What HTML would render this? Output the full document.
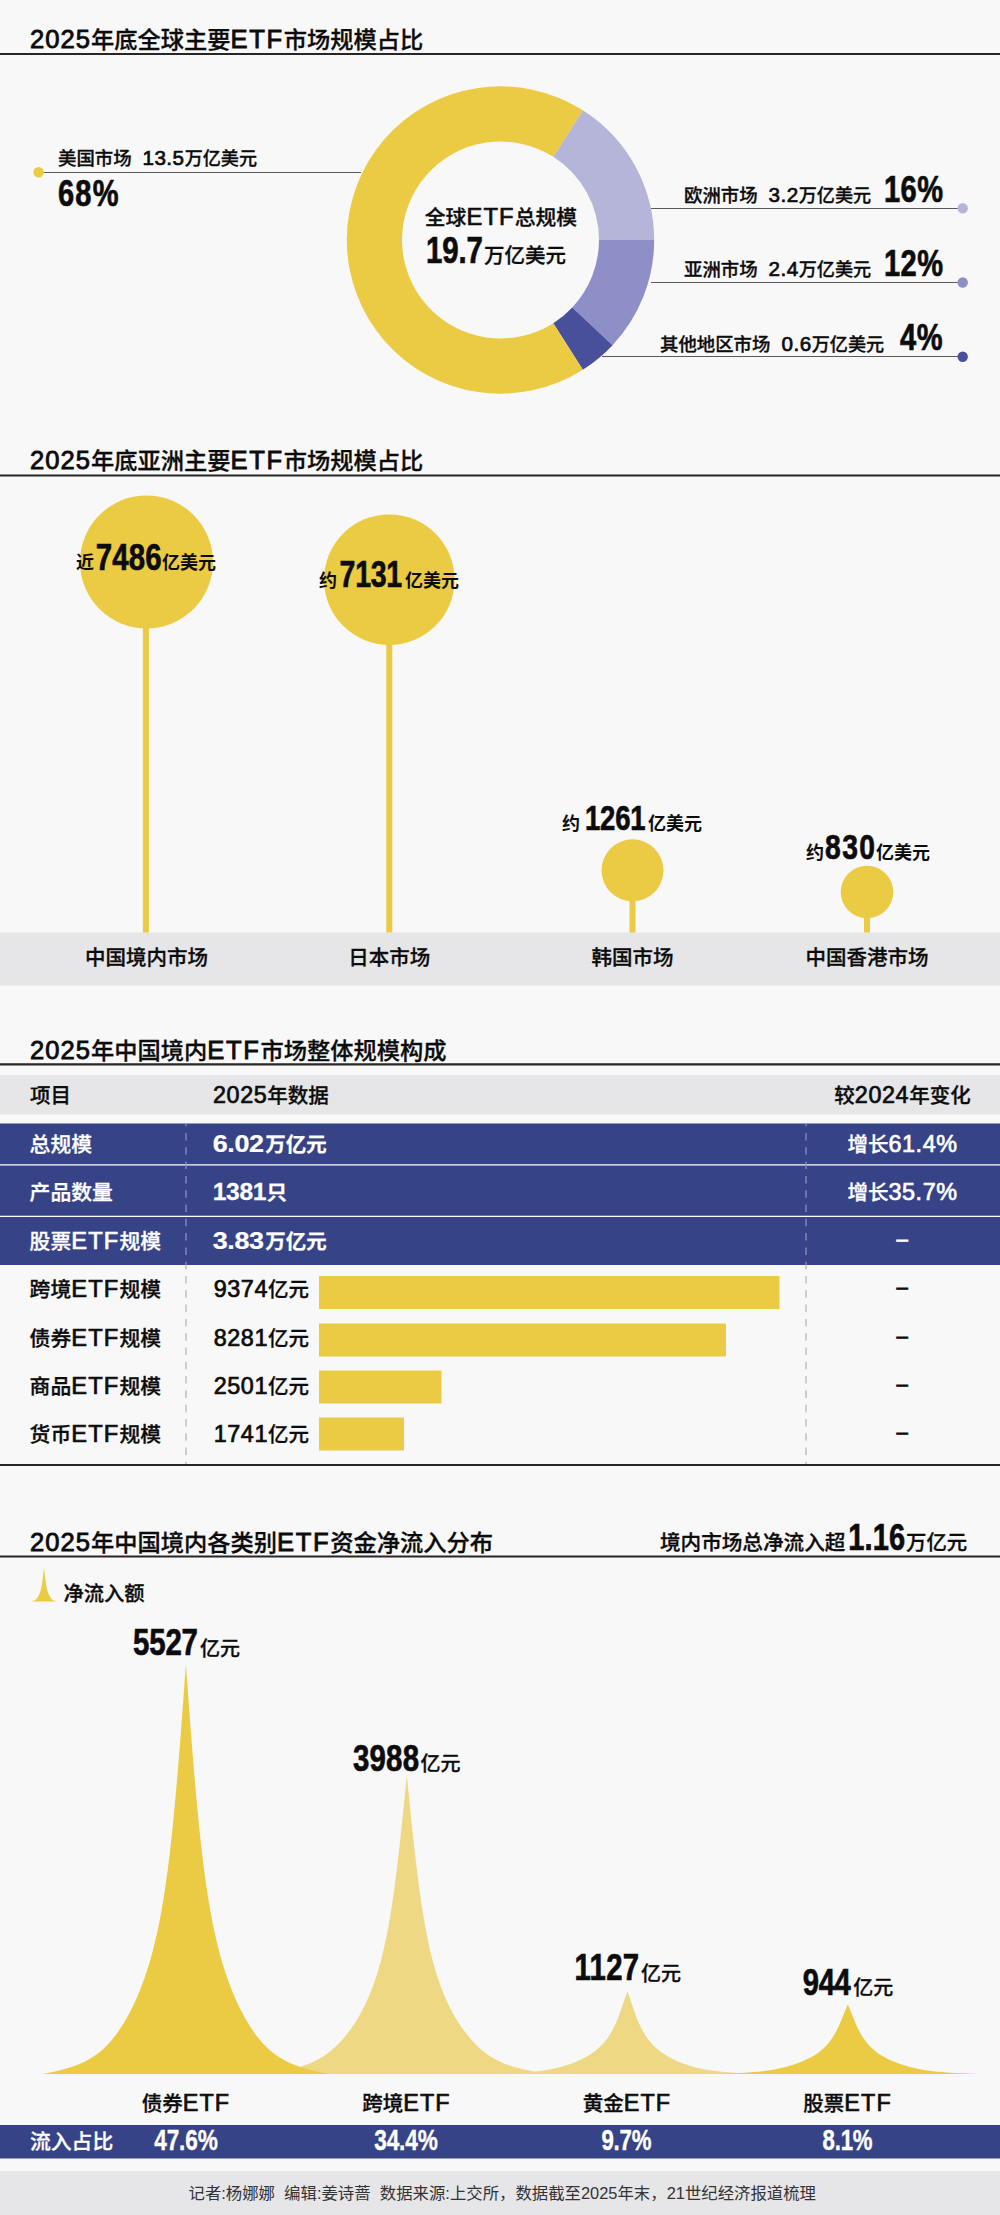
<!DOCTYPE html>
<html lang="zh-CN"><head><meta charset="utf-8"><title>ETF</title>
<style>html,body{margin:0;padding:0;background:#f8f8f9}svg{display:block}text{font-family:"Liberation Sans","Noto Sans CJK SC",sans-serif;white-space:pre}</style>
</head><body>
<svg width="1000" height="2215" viewBox="0 0 1000 2215">
<rect width="1000" height="2215" fill="#f8f8f9"/>
<text x="30.0" y="47.5" font-size="23.25" fill="#0c0c0c" font-weight="500" text-anchor="start" stroke="#0c0c0c" stroke-width="0.30" ><tspan font-size="25.58" letter-spacing="1.02" stroke="#0c0c0c" stroke-width="0.85">2025</tspan>年底全球主要<tspan font-size="25.58" letter-spacing="1.66" stroke="#0c0c0c" stroke-width="0.85">ETF</tspan>市场规模占比</text>
<line x1="0.0" y1="54.0" x2="1000.0" y2="54.0" stroke="#262626" stroke-width="1.90" />
<path d="M582.86 110.23A153.7 153.7 0 0 1 654.20 240.00L599.00 240.00A98.5 98.5 0 0 0 553.28 156.83Z" fill="#b5b5da"/>
<path d="M654.20 240.00A153.7 153.7 0 0 1 612.54 345.21L572.30 307.43A98.5 98.5 0 0 0 599.00 240.00Z" fill="#8d8fc6"/>
<path d="M612.54 345.21A153.7 153.7 0 0 1 582.86 369.77L553.28 323.17A98.5 98.5 0 0 0 572.30 307.43Z" fill="#48509b"/>
<path d="M582.86 369.77A153.7 153.7 0 1 1 582.86 110.23L553.28 156.83A98.5 98.5 0 1 0 553.28 323.17Z" fill="#eacb43"/>
<text x="501.0" y="225.0" font-size="20.80" fill="#0c0c0c" font-weight="500" text-anchor="middle" stroke="#0c0c0c" stroke-width="0.30" >全球<tspan font-size="23.71" letter-spacing="1.19" stroke="#0c0c0c" stroke-width="0.70">ETF</tspan>总规模</text>
<text transform="translate(426.00 263.00) scale(0.785 1)" font-size="37.50" fill="#0c0c0c" font-weight="700" stroke="#0c0c0c" stroke-width="0.70" textLength="72.6" lengthAdjust="spacing">19.7</text>
<text x="484.0" y="263.0" font-size="20.50" fill="#0c0c0c" font-weight="500" text-anchor="start" stroke="#0c0c0c" stroke-width="0.30" >万亿美元</text>
<line x1="39.0" y1="172.5" x2="361.0" y2="172.5" stroke="#5a5a5a" stroke-width="1.00" />
<circle cx="38.6" cy="172.2" r="5.2" fill="#eacb43"/>
<text x="58.0" y="165.0" font-size="18.40" fill="#0c0c0c" font-weight="500" text-anchor="start" stroke="#0c0c0c" stroke-width="0.30" >美国市场</text>
<text x="142.4" y="165.0" font-size="18.10" fill="#0c0c0c" font-weight="500" text-anchor="start" stroke="#0c0c0c" stroke-width="0.30" ><tspan font-size="20.63" letter-spacing="0.52" stroke="#0c0c0c" stroke-width="0.70">13.5</tspan>万亿美元</text>
<text transform="translate(58.00 206.40) scale(0.785 1)" font-size="37.00" fill="#0c0c0c" font-weight="700" stroke="#0c0c0c" stroke-width="0.70" textLength="77.1" lengthAdjust="spacing">68%</text>
<line x1="651.0" y1="208.5" x2="962.0" y2="208.5" stroke="#5a5a5a" stroke-width="1.00" />
<circle cx="962.7" cy="208.3" r="5.2" fill="#b5b5da"/>
<text x="684.0" y="202.2" font-size="18.40" fill="#0c0c0c" font-weight="500" text-anchor="start" stroke="#0c0c0c" stroke-width="0.30" >欧洲市场</text>
<text x="768.5" y="202.2" font-size="18.10" fill="#0c0c0c" font-weight="500" text-anchor="start" stroke="#0c0c0c" stroke-width="0.30" ><tspan font-size="20.63" letter-spacing="0.52" stroke="#0c0c0c" stroke-width="0.70">3.2</tspan>万亿美元</text>
<text transform="translate(884.00 201.70) scale(0.785 1)" font-size="37.00" fill="#0c0c0c" font-weight="700" stroke="#0c0c0c" stroke-width="0.70" textLength="75.2" lengthAdjust="spacing">16%</text>
<line x1="651.0" y1="282.5" x2="962.0" y2="282.5" stroke="#5a5a5a" stroke-width="1.00" />
<circle cx="962.7" cy="282.5" r="5.2" fill="#8d8fc6"/>
<text x="684.0" y="276.4" font-size="18.40" fill="#0c0c0c" font-weight="500" text-anchor="start" stroke="#0c0c0c" stroke-width="0.30" >亚洲市场</text>
<text x="768.5" y="276.4" font-size="18.10" fill="#0c0c0c" font-weight="500" text-anchor="start" stroke="#0c0c0c" stroke-width="0.30" ><tspan font-size="20.63" letter-spacing="0.52" stroke="#0c0c0c" stroke-width="0.70">2.4</tspan>万亿美元</text>
<text transform="translate(884.00 275.90) scale(0.785 1)" font-size="37.00" fill="#0c0c0c" font-weight="700" stroke="#0c0c0c" stroke-width="0.70" textLength="75.2" lengthAdjust="spacing">12%</text>
<line x1="602.0" y1="356.5" x2="962.0" y2="356.5" stroke="#5a5a5a" stroke-width="1.00" />
<circle cx="962.7" cy="356.7" r="5.2" fill="#48509b"/>
<text x="660.0" y="350.6" font-size="18.40" fill="#0c0c0c" font-weight="500" text-anchor="start" stroke="#0c0c0c" stroke-width="0.30" >其他地区市场</text>
<text x="781.5" y="350.6" font-size="18.10" fill="#0c0c0c" font-weight="500" text-anchor="start" stroke="#0c0c0c" stroke-width="0.30" ><tspan font-size="20.63" letter-spacing="0.52" stroke="#0c0c0c" stroke-width="0.70">0.6</tspan>万亿美元</text>
<text transform="translate(900.00 350.10) scale(0.785 1)" font-size="37.00" fill="#0c0c0c" font-weight="700" stroke="#0c0c0c" stroke-width="0.70" textLength="54.1" lengthAdjust="spacing">4%</text>
<text x="30.0" y="469.0" font-size="23.25" fill="#0c0c0c" font-weight="500" text-anchor="start" stroke="#0c0c0c" stroke-width="0.30" ><tspan font-size="25.58" letter-spacing="1.02" stroke="#0c0c0c" stroke-width="0.85">2025</tspan>年底亚洲主要<tspan font-size="25.58" letter-spacing="1.66" stroke="#0c0c0c" stroke-width="0.85">ETF</tspan>市场规模占比</text>
<line x1="0.0" y1="475.4" x2="1000.0" y2="475.4" stroke="#262626" stroke-width="2.00" />
<rect x="0.0" y="932.5" width="1000.0" height="53.0" fill="#e6e6e8"/>
<rect x="142.9" y="562.0" width="6.0" height="370.5" fill="#eacb43"/>
<circle cx="146.5" cy="562.0" r="66.5" fill="#eacb43"/>
<rect x="386.3" y="579.7" width="6.0" height="352.8" fill="#eacb43"/>
<circle cx="389.3" cy="579.7" r="65.3" fill="#eacb43"/>
<rect x="629.5" y="870.3" width="6.0" height="62.2" fill="#eacb43"/>
<circle cx="632.5" cy="870.3" r="31.0" fill="#eacb43"/>
<rect x="864.0" y="892.0" width="6.0" height="40.5" fill="#eacb43"/>
<circle cx="867.0" cy="892.0" r="26.3" fill="#eacb43"/>
<text x="146.5" y="965.0" font-size="20.50" fill="#0c0c0c" font-weight="500" text-anchor="middle" stroke="#0c0c0c" stroke-width="0.30" >中国境内市场</text>
<text x="389.3" y="965.0" font-size="20.50" fill="#0c0c0c" font-weight="500" text-anchor="middle" stroke="#0c0c0c" stroke-width="0.30" >日本市场</text>
<text x="632.5" y="965.0" font-size="20.50" fill="#0c0c0c" font-weight="500" text-anchor="middle" stroke="#0c0c0c" stroke-width="0.30" >韩国市场</text>
<text x="867.0" y="965.0" font-size="20.50" fill="#0c0c0c" font-weight="500" text-anchor="middle" stroke="#0c0c0c" stroke-width="0.30" >中国香港市场</text>
<text x="76.0" y="569.0" font-size="18.00" fill="#0c0c0c" font-weight="700" text-anchor="start" stroke="#0c0c0c" stroke-width="0.00" >近</text>
<text transform="translate(95.70 569.50) scale(0.785 1)" font-size="37.50" fill="#0c0c0c" font-weight="700" stroke="#0c0c0c" stroke-width="0.70" textLength="84.1" lengthAdjust="spacing">7486</text>
<text x="162.0" y="569.0" font-size="18.00" fill="#0c0c0c" font-weight="700" text-anchor="start" stroke="#0c0c0c" stroke-width="0.00" >亿美元</text>
<text x="319.0" y="586.5" font-size="18.00" fill="#0c0c0c" font-weight="700" text-anchor="start" stroke="#0c0c0c" stroke-width="0.00" >约</text>
<text transform="translate(339.60 587.00) scale(0.769 1)" font-size="37.00" fill="#0c0c0c" font-weight="700" stroke="#0c0c0c" stroke-width="0.70" textLength="81.3" lengthAdjust="spacing">7131</text>
<text x="405.0" y="586.5" font-size="18.00" fill="#0c0c0c" font-weight="700" text-anchor="start" stroke="#0c0c0c" stroke-width="0.00" >亿美元</text>
<text x="562.0" y="829.5" font-size="18.00" fill="#0c0c0c" font-weight="700" text-anchor="start" stroke="#0c0c0c" stroke-width="0.00" >约</text>
<text transform="translate(585.00 829.50) scale(0.785 1)" font-size="35.00" fill="#0c0c0c" font-weight="700" stroke="#0c0c0c" stroke-width="0.70" textLength="77.1" lengthAdjust="spacing">1261</text>
<text x="648.0" y="829.5" font-size="18.00" fill="#0c0c0c" font-weight="700" text-anchor="start" stroke="#0c0c0c" stroke-width="0.00" >亿美元</text>
<text x="806.0" y="858.5" font-size="18.00" fill="#0c0c0c" font-weight="700" text-anchor="start" stroke="#0c0c0c" stroke-width="0.00" >约</text>
<text transform="translate(825.00 859.00) scale(0.785 1)" font-size="36.00" fill="#0c0c0c" font-weight="700" stroke="#0c0c0c" stroke-width="0.70" textLength="63.7" lengthAdjust="spacing">830</text>
<text x="876.0" y="858.5" font-size="18.00" fill="#0c0c0c" font-weight="700" text-anchor="start" stroke="#0c0c0c" stroke-width="0.00" >亿美元</text>
<text x="30.0" y="1058.5" font-size="23.25" fill="#0c0c0c" font-weight="500" text-anchor="start" stroke="#0c0c0c" stroke-width="0.30" ><tspan font-size="25.58" letter-spacing="1.02" stroke="#0c0c0c" stroke-width="0.85">2025</tspan>年中国境内<tspan font-size="25.58" letter-spacing="1.66" stroke="#0c0c0c" stroke-width="0.85">ETF</tspan>市场整体规模构成</text>
<line x1="0.0" y1="1064.4" x2="1000.0" y2="1064.4" stroke="#262626" stroke-width="2.20" />
<rect x="0.0" y="1075.0" width="1000.0" height="39.5" fill="#e6e6e8"/>
<text x="30.0" y="1103.0" font-size="20.50" fill="#0c0c0c" font-weight="500" text-anchor="start" stroke="#0c0c0c" stroke-width="0.30" >项目</text>
<text x="213.0" y="1103.0" font-size="20.50" fill="#0c0c0c" font-weight="500" text-anchor="start" stroke="#0c0c0c" stroke-width="0.30" ><tspan font-size="23.37" letter-spacing="0.58" stroke="#0c0c0c" stroke-width="0.70">2025</tspan>年数据</text>
<text x="902.5" y="1103.0" font-size="20.50" fill="#0c0c0c" font-weight="500" text-anchor="middle" stroke="#0c0c0c" stroke-width="0.30" >较<tspan font-size="23.37" letter-spacing="0.58" stroke="#0c0c0c" stroke-width="0.70">2024</tspan>年变化</text>
<rect x="0.0" y="1123.5" width="1000.0" height="141.5" fill="#364386"/>
<line x1="0.0" y1="1164.9" x2="1000.0" y2="1164.9" stroke="#fff" stroke-width="1.10" />
<line x1="0.0" y1="1216.4" x2="1000.0" y2="1216.4" stroke="#fff" stroke-width="1.10" />
<text x="29.6" y="1151.7" font-size="20.80" fill="#fff" font-weight="500" text-anchor="start" stroke="#fff" stroke-width="0.30" >总规模</text>
<text transform="translate(212.80 1151.70) scale(1.161 1)" font-size="23.20" fill="#fff" font-weight="700" stroke="#fff" stroke-width="0.25" textLength="44.1" lengthAdjust="spacing">6.02</text>
<text x="265.2" y="1151.7" font-size="20.50" fill="#fff" font-weight="700" text-anchor="start" stroke="#fff" stroke-width="0.25" >万亿元</text>
<text x="902.5" y="1151.7" font-size="20.50" fill="#fff" font-weight="500" text-anchor="middle" stroke="#fff" stroke-width="0.30" >增长<tspan font-size="23.37" letter-spacing="0.58" stroke="#fff" stroke-width="0.70">61.4%</tspan></text>
<text x="29.6" y="1200.0" font-size="20.80" fill="#fff" font-weight="500" text-anchor="start" stroke="#fff" stroke-width="0.30" >产品数量</text>
<text transform="translate(212.80 1200.00) scale(1.062 1)" font-size="23.20" fill="#fff" font-weight="700" stroke="#fff" stroke-width="0.25" textLength="50.5" lengthAdjust="spacing">1381</text>
<text x="266.6" y="1200.0" font-size="20.50" fill="#fff" font-weight="700" text-anchor="start" stroke="#fff" stroke-width="0.25" >只</text>
<text x="902.5" y="1200.0" font-size="20.50" fill="#fff" font-weight="500" text-anchor="middle" stroke="#fff" stroke-width="0.30" >增长<tspan font-size="23.37" letter-spacing="0.58" stroke="#fff" stroke-width="0.70">35.7%</tspan></text>
<text x="29.6" y="1248.6" font-size="20.80" fill="#fff" font-weight="500" text-anchor="start" stroke="#fff" stroke-width="0.30" >股票<tspan font-size="23.71" letter-spacing="1.19" stroke="#fff" stroke-width="0.70">ETF</tspan>规模</text>
<text transform="translate(212.80 1248.60) scale(1.161 1)" font-size="23.20" fill="#fff" font-weight="700" stroke="#fff" stroke-width="0.25" textLength="44.1" lengthAdjust="spacing">3.83</text>
<text x="265.2" y="1248.6" font-size="20.50" fill="#fff" font-weight="700" text-anchor="start" stroke="#fff" stroke-width="0.25" >万亿元</text>
<text x="902.5" y="1245.6" font-size="20.50" fill="#fff" font-weight="500" text-anchor="middle" stroke="#fff" stroke-width="0.30" ><tspan font-size="20.50" letter-spacing="0.51" stroke="#fff" stroke-width="0.70">–</tspan></text>
<rect x="319.0" y="1276.0" width="460.5" height="33.0" fill="#eacb43"/>
<text x="29.6" y="1297.3" font-size="20.80" fill="#0c0c0c" font-weight="500" text-anchor="start" stroke="#0c0c0c" stroke-width="0.30" >跨境<tspan font-size="23.71" letter-spacing="1.19" stroke="#0c0c0c" stroke-width="0.70">ETF</tspan>规模</text>
<text x="213.7" y="1297.3" font-size="20.50" fill="#0c0c0c" font-weight="500" text-anchor="start" stroke="#0c0c0c" stroke-width="0.30" ><tspan font-size="23.37" letter-spacing="0.58" stroke="#0c0c0c" stroke-width="0.70">9374</tspan>亿元</text>
<text x="902.5" y="1294.3" font-size="20.50" fill="#0c0c0c" font-weight="500" text-anchor="middle" stroke="#0c0c0c" stroke-width="0.30" ><tspan font-size="20.50" letter-spacing="0.51" stroke="#0c0c0c" stroke-width="0.70">–</tspan></text>
<rect x="319.0" y="1323.5" width="407.0" height="33.0" fill="#eacb43"/>
<text x="29.6" y="1345.7" font-size="20.80" fill="#0c0c0c" font-weight="500" text-anchor="start" stroke="#0c0c0c" stroke-width="0.30" >债券<tspan font-size="23.71" letter-spacing="1.19" stroke="#0c0c0c" stroke-width="0.70">ETF</tspan>规模</text>
<text x="213.7" y="1345.7" font-size="20.50" fill="#0c0c0c" font-weight="500" text-anchor="start" stroke="#0c0c0c" stroke-width="0.30" ><tspan font-size="23.37" letter-spacing="0.58" stroke="#0c0c0c" stroke-width="0.70">8281</tspan>亿元</text>
<text x="902.5" y="1342.7" font-size="20.50" fill="#0c0c0c" font-weight="500" text-anchor="middle" stroke="#0c0c0c" stroke-width="0.30" ><tspan font-size="20.50" letter-spacing="0.51" stroke="#0c0c0c" stroke-width="0.70">–</tspan></text>
<rect x="319.0" y="1370.5" width="122.5" height="33.0" fill="#eacb43"/>
<text x="29.6" y="1394.0" font-size="20.80" fill="#0c0c0c" font-weight="500" text-anchor="start" stroke="#0c0c0c" stroke-width="0.30" >商品<tspan font-size="23.71" letter-spacing="1.19" stroke="#0c0c0c" stroke-width="0.70">ETF</tspan>规模</text>
<text x="213.7" y="1394.0" font-size="20.50" fill="#0c0c0c" font-weight="500" text-anchor="start" stroke="#0c0c0c" stroke-width="0.30" ><tspan font-size="23.37" letter-spacing="0.58" stroke="#0c0c0c" stroke-width="0.70">2501</tspan>亿元</text>
<text x="902.5" y="1391.0" font-size="20.50" fill="#0c0c0c" font-weight="500" text-anchor="middle" stroke="#0c0c0c" stroke-width="0.30" ><tspan font-size="20.50" letter-spacing="0.51" stroke="#0c0c0c" stroke-width="0.70">–</tspan></text>
<rect x="319.0" y="1417.5" width="85.0" height="33.0" fill="#eacb43"/>
<text x="29.6" y="1442.4" font-size="20.80" fill="#0c0c0c" font-weight="500" text-anchor="start" stroke="#0c0c0c" stroke-width="0.30" >货币<tspan font-size="23.71" letter-spacing="1.19" stroke="#0c0c0c" stroke-width="0.70">ETF</tspan>规模</text>
<text x="213.7" y="1442.4" font-size="20.50" fill="#0c0c0c" font-weight="500" text-anchor="start" stroke="#0c0c0c" stroke-width="0.30" ><tspan font-size="23.37" letter-spacing="0.58" stroke="#0c0c0c" stroke-width="0.70">1741</tspan>亿元</text>
<text x="902.5" y="1439.4" font-size="20.50" fill="#0c0c0c" font-weight="500" text-anchor="middle" stroke="#0c0c0c" stroke-width="0.30" ><tspan font-size="20.50" letter-spacing="0.51" stroke="#0c0c0c" stroke-width="0.70">–</tspan></text>
<line x1="186.0" y1="1123.5" x2="186.0" y2="1265.0" stroke="#8f97c8" stroke-width="1.20" stroke-dasharray="7.5 6.8" stroke-dashoffset="4.8"/>
<line x1="186.0" y1="1265.0" x2="186.0" y2="1464.0" stroke="#b0b0b6" stroke-width="1.20" stroke-dasharray="7.5 6.8" stroke-dashoffset="3.3"/>
<line x1="806.0" y1="1123.5" x2="806.0" y2="1265.0" stroke="#8f97c8" stroke-width="1.20" stroke-dasharray="7.5 6.8" stroke-dashoffset="4.8"/>
<line x1="806.0" y1="1265.0" x2="806.0" y2="1464.0" stroke="#b0b0b6" stroke-width="1.20" stroke-dasharray="7.5 6.8" stroke-dashoffset="3.3"/>
<line x1="0.0" y1="1464.9" x2="1000.0" y2="1464.9" stroke="#262626" stroke-width="2.00" />
<text x="30.0" y="1551.0" font-size="23.25" fill="#0c0c0c" font-weight="500" text-anchor="start" stroke="#0c0c0c" stroke-width="0.30" ><tspan font-size="25.58" letter-spacing="1.02" stroke="#0c0c0c" stroke-width="0.85">2025</tspan>年中国境内各类别<tspan font-size="25.58" letter-spacing="1.66" stroke="#0c0c0c" stroke-width="0.85">ETF</tspan>资金净流入分布</text>
<line x1="0.0" y1="1556.5" x2="1000.0" y2="1556.5" stroke="#262626" stroke-width="1.90" />
<text x="660.0" y="1550.0" font-size="20.60" fill="#0c0c0c" font-weight="500" text-anchor="start" stroke="#0c0c0c" stroke-width="0.30" >境内市场总净流入超</text>
<text transform="translate(848.20 1550.00) scale(0.785 1)" font-size="37.00" fill="#0c0c0c" font-weight="700" stroke="#0c0c0c" stroke-width="0.70" textLength="72.6" lengthAdjust="spacing">1.16</text>
<text x="906.0" y="1550.0" font-size="20.40" fill="#0c0c0c" font-weight="500" text-anchor="start" stroke="#0c0c0c" stroke-width="0.30" >万亿元</text>
<path d="M406.80 1775.20L407.78 1785.16L408.76 1795.12L409.77 1805.08L410.78 1815.04L411.82 1825.00L412.89 1834.96L413.98 1844.92L415.11 1854.88L416.28 1864.84L417.50 1874.80L418.79 1884.76L420.15 1894.72L421.61 1904.68L423.17 1914.64L424.87 1924.60L426.74 1934.56L428.80 1944.52L431.09 1954.48L433.67 1964.44L436.60 1974.40L439.94 1984.36L443.78 1994.32L448.24 2004.28L453.43 2014.24L455.27 2017.43L457.21 2020.61L459.26 2023.80L461.41 2026.99L463.69 2030.18L466.10 2033.36L468.65 2036.55L471.38 2039.74L474.30 2042.92L477.46 2046.11L480.92 2049.30L484.77 2052.49L489.18 2055.67L494.38 2058.86L500.74 2062.05L502.87 2062.97L505.17 2063.89L507.65 2064.81L510.34 2065.73L513.27 2066.64L516.46 2067.56L519.97 2068.48L523.82 2069.40L528.06 2070.32L532.75 2071.24L537.95 2072.16L543.73 2073.08L550.17 2074.00L263.43 2074.00L269.87 2073.08L275.65 2072.16L280.85 2071.24L285.54 2070.32L289.78 2069.40L293.63 2068.48L297.14 2067.56L300.33 2066.64L303.26 2065.73L305.95 2064.81L308.43 2063.89L310.73 2062.97L312.86 2062.05L319.22 2058.86L324.42 2055.67L328.83 2052.49L332.68 2049.30L336.14 2046.11L339.30 2042.92L342.22 2039.74L344.95 2036.55L347.50 2033.36L349.91 2030.18L352.19 2026.99L354.34 2023.80L356.39 2020.61L358.33 2017.43L360.17 2014.24L365.36 2004.28L369.82 1994.32L373.66 1984.36L377.00 1974.40L379.93 1964.44L382.51 1954.48L384.80 1944.52L386.86 1934.56L388.73 1924.60L390.43 1914.64L391.99 1904.68L393.45 1894.72L394.81 1884.76L396.10 1874.80L397.32 1864.84L398.49 1854.88L399.62 1844.92L400.71 1834.96L401.78 1825.00L402.82 1815.04L403.83 1805.08L404.84 1795.12L405.82 1785.16Z" fill="#efd883"/>
<path d="M627.40 1991.40L628.41 1994.15L629.39 1996.91L630.37 1999.66L631.32 2002.41L632.27 2005.17L633.21 2007.92L634.15 2010.67L635.08 2013.43L636.03 2016.18L637.14 2018.93L638.31 2021.69L639.55 2024.44L640.88 2027.19L642.30 2029.95L643.85 2032.70L645.54 2035.45L647.42 2038.21L649.50 2040.96L651.85 2043.71L654.51 2046.47L657.56 2049.22L661.06 2051.97L665.11 2054.73L669.83 2057.48L671.51 2058.36L673.27 2059.24L675.13 2060.12L677.10 2061.00L679.17 2061.89L681.36 2062.77L683.69 2063.65L686.17 2064.53L688.83 2065.41L691.70 2066.29L694.85 2067.17L698.36 2068.05L702.37 2068.93L707.09 2069.81L712.89 2070.70L714.83 2070.95L716.91 2071.20L719.17 2071.46L721.62 2071.71L724.28 2071.97L727.19 2072.22L730.38 2072.48L733.88 2072.73L737.75 2072.98L742.02 2073.24L746.75 2073.49L752.01 2073.75L757.86 2074.00L496.94 2074.00L502.79 2073.75L508.05 2073.49L512.78 2073.24L517.05 2072.98L520.92 2072.73L524.42 2072.48L527.61 2072.22L530.52 2071.97L533.18 2071.71L535.63 2071.46L537.89 2071.20L539.97 2070.95L541.91 2070.70L547.71 2069.81L552.43 2068.93L556.44 2068.05L559.95 2067.17L563.10 2066.29L565.97 2065.41L568.63 2064.53L571.11 2063.65L573.44 2062.77L575.63 2061.89L577.70 2061.00L579.67 2060.12L581.53 2059.24L583.29 2058.36L584.97 2057.48L589.69 2054.73L593.74 2051.97L597.24 2049.22L600.29 2046.47L602.95 2043.71L605.30 2040.96L607.38 2038.21L609.26 2035.45L610.95 2032.70L612.50 2029.95L613.92 2027.19L615.25 2024.44L616.49 2021.69L617.66 2018.93L618.77 2016.18L619.72 2013.43L620.65 2010.67L621.59 2007.92L622.53 2005.17L623.48 2002.41L624.43 1999.66L625.41 1996.91L626.39 1994.15Z" fill="#efd883"/>
<path d="M185.90 1663.90L186.88 1677.57L187.86 1691.24L188.87 1704.91L189.88 1718.58L190.92 1732.25L191.99 1745.92L193.08 1759.59L194.21 1773.26L195.38 1786.93L196.60 1800.60L197.89 1814.27L199.25 1827.94L200.71 1841.61L202.27 1855.28L203.97 1868.95L205.84 1882.62L207.90 1896.29L210.19 1909.96L212.77 1923.63L215.70 1937.30L219.04 1950.97L222.88 1964.64L227.34 1978.31L232.53 1991.98L234.37 1996.35L236.31 2000.73L238.36 2005.10L240.51 2009.48L242.79 2013.85L245.20 2018.23L247.75 2022.60L250.48 2026.98L253.40 2031.35L256.56 2035.72L260.02 2040.10L263.87 2044.47L268.28 2048.85L273.48 2053.22L279.84 2057.60L281.97 2058.86L284.27 2060.12L286.75 2061.38L289.44 2062.64L292.37 2063.91L295.56 2065.17L299.07 2066.43L302.92 2067.69L307.16 2068.95L311.85 2070.21L317.05 2071.48L322.83 2072.74L329.27 2074.00L42.53 2074.00L48.97 2072.74L54.75 2071.48L59.95 2070.21L64.64 2068.95L68.88 2067.69L72.73 2066.43L76.24 2065.17L79.43 2063.91L82.36 2062.64L85.05 2061.38L87.53 2060.12L89.83 2058.86L91.96 2057.60L98.32 2053.22L103.52 2048.85L107.93 2044.47L111.78 2040.10L115.24 2035.72L118.40 2031.35L121.32 2026.98L124.05 2022.60L126.60 2018.23L129.01 2013.85L131.29 2009.48L133.44 2005.10L135.49 2000.73L137.43 1996.35L139.27 1991.98L144.46 1978.31L148.92 1964.64L152.76 1950.97L156.10 1937.30L159.03 1923.63L161.61 1909.96L163.90 1896.29L165.96 1882.62L167.83 1868.95L169.53 1855.28L171.09 1841.61L172.55 1827.94L173.91 1814.27L175.20 1800.60L176.42 1786.93L177.59 1773.26L178.72 1759.59L179.81 1745.92L180.88 1732.25L181.92 1718.58L182.93 1704.91L183.94 1691.24L184.92 1677.57Z" fill="#eacb43"/>
<path d="M847.80 2004.50L848.81 2006.82L849.79 2009.13L850.77 2011.45L851.72 2013.77L852.67 2016.08L853.61 2018.40L854.55 2020.72L855.48 2023.03L856.43 2025.35L857.54 2027.67L858.71 2029.98L859.95 2032.30L861.28 2034.62L862.70 2036.93L864.25 2039.25L865.94 2041.57L867.82 2043.88L869.90 2046.20L872.25 2048.52L874.91 2050.83L877.96 2053.15L881.46 2055.47L885.51 2057.78L890.23 2060.10L891.91 2060.84L893.67 2061.58L895.53 2062.32L897.50 2063.07L899.57 2063.81L901.76 2064.55L904.09 2065.29L906.57 2066.03L909.23 2066.77L912.10 2067.51L915.25 2068.25L918.76 2069.00L922.77 2069.74L927.49 2070.48L933.29 2071.22L935.23 2071.43L937.31 2071.65L939.57 2071.86L942.02 2072.08L944.68 2072.29L947.59 2072.50L950.78 2072.72L954.28 2072.93L958.15 2073.14L962.42 2073.36L967.15 2073.57L972.41 2073.79L978.26 2074.00L717.34 2074.00L723.19 2073.79L728.45 2073.57L733.18 2073.36L737.45 2073.14L741.32 2072.93L744.82 2072.72L748.01 2072.50L750.92 2072.29L753.58 2072.08L756.03 2071.86L758.29 2071.65L760.37 2071.43L762.31 2071.22L768.11 2070.48L772.83 2069.74L776.84 2069.00L780.35 2068.25L783.50 2067.51L786.37 2066.77L789.03 2066.03L791.51 2065.29L793.84 2064.55L796.03 2063.81L798.10 2063.07L800.07 2062.32L801.93 2061.58L803.69 2060.84L805.37 2060.10L810.09 2057.78L814.14 2055.47L817.64 2053.15L820.69 2050.83L823.35 2048.52L825.70 2046.20L827.78 2043.88L829.66 2041.57L831.35 2039.25L832.90 2036.93L834.32 2034.62L835.65 2032.30L836.89 2029.98L838.06 2027.67L839.17 2025.35L840.12 2023.03L841.05 2020.72L841.99 2018.40L842.93 2016.08L843.88 2013.77L844.83 2011.45L845.81 2009.13L846.79 2006.82Z" fill="#eacb43"/>
<path d="M44.00 1567.50L44.12 1568.63L44.24 1569.76L44.37 1570.89L44.49 1572.02L44.62 1573.15L44.75 1574.28L44.88 1575.41L45.01 1576.54L45.15 1577.67L45.29 1578.80L45.44 1579.93L45.59 1581.06L45.75 1582.19L45.92 1583.32L46.10 1584.45L46.29 1585.58L46.51 1586.71L46.74 1587.84L46.99 1588.97L47.27 1590.10L47.59 1591.23L47.95 1592.36L48.36 1593.49L48.83 1594.62L49.00 1594.98L49.17 1595.34L49.35 1595.70L49.54 1596.07L49.75 1596.43L49.96 1596.79L50.18 1597.15L50.42 1597.51L50.68 1597.87L50.95 1598.24L51.25 1598.60L51.59 1598.96L51.96 1599.32L52.41 1599.68L52.95 1600.04L53.13 1600.15L53.32 1600.25L53.53 1600.36L53.76 1600.46L54.01 1600.57L54.28 1600.67L54.57 1600.77L54.89 1600.88L55.25 1600.98L55.64 1601.09L56.08 1601.19L56.56 1601.30L57.10 1601.40L30.90 1601.40L31.44 1601.30L31.92 1601.19L32.36 1601.09L32.75 1600.98L33.11 1600.88L33.43 1600.77L33.72 1600.67L33.99 1600.57L34.24 1600.46L34.47 1600.36L34.68 1600.25L34.87 1600.15L35.05 1600.04L35.59 1599.68L36.04 1599.32L36.41 1598.96L36.75 1598.60L37.05 1598.24L37.32 1597.87L37.58 1597.51L37.82 1597.15L38.04 1596.79L38.25 1596.43L38.46 1596.07L38.65 1595.70L38.83 1595.34L39.00 1594.98L39.17 1594.62L39.64 1593.49L40.05 1592.36L40.41 1591.23L40.73 1590.10L41.01 1588.97L41.26 1587.84L41.49 1586.71L41.71 1585.58L41.90 1584.45L42.08 1583.32L42.25 1582.19L42.41 1581.06L42.56 1579.93L42.71 1578.80L42.85 1577.67L42.99 1576.54L43.12 1575.41L43.25 1574.28L43.38 1573.15L43.51 1572.02L43.63 1570.89L43.76 1569.76L43.88 1568.63Z" fill="#eacb43"/>
<text x="63.5" y="1601.2" font-size="20.30" fill="#0c0c0c" font-weight="500" text-anchor="start" stroke="#0c0c0c" stroke-width="0.30" >净流入额</text>
<text transform="translate(133.00 1655.30) scale(0.785 1)" font-size="37.50" fill="#0c0c0c" font-weight="700" stroke="#0c0c0c" stroke-width="0.70" textLength="82.8" lengthAdjust="spacing">5527</text>
<text x="200.0" y="1655.5" font-size="20.00" fill="#0c0c0c" font-weight="500" text-anchor="start" stroke="#0c0c0c" stroke-width="0.30" >亿元</text>
<text transform="translate(353.00 1770.70) scale(0.785 1)" font-size="37.50" fill="#0c0c0c" font-weight="700" stroke="#0c0c0c" stroke-width="0.70" textLength="84.1" lengthAdjust="spacing">3988</text>
<text x="420.4" y="1771.0" font-size="20.00" fill="#0c0c0c" font-weight="500" text-anchor="start" stroke="#0c0c0c" stroke-width="0.30" >亿元</text>
<text transform="translate(574.60 1980.30) scale(0.782 1)" font-size="37.50" fill="#0c0c0c" font-weight="700" stroke="#0c0c0c" stroke-width="0.70" textLength="82.4" lengthAdjust="spacing">1127</text>
<text x="641.0" y="1981.0" font-size="20.00" fill="#0c0c0c" font-weight="500" text-anchor="start" stroke="#0c0c0c" stroke-width="0.30" >亿元</text>
<text transform="translate(802.80 1994.50) scale(0.779 1)" font-size="37.50" fill="#0c0c0c" font-weight="700" stroke="#0c0c0c" stroke-width="0.70" textLength="61.6" lengthAdjust="spacing">944</text>
<text x="853.2" y="1995.0" font-size="20.00" fill="#0c0c0c" font-weight="500" text-anchor="start" stroke="#0c0c0c" stroke-width="0.30" >亿元</text>
<text x="186.0" y="2111.0" font-size="20.50" fill="#0c0c0c" font-weight="500" text-anchor="middle" stroke="#0c0c0c" stroke-width="0.30" >债券<tspan font-size="23.37" letter-spacing="1.17" stroke="#0c0c0c" stroke-width="0.70">ETF</tspan></text>
<text x="406.5" y="2111.0" font-size="20.50" fill="#0c0c0c" font-weight="500" text-anchor="middle" stroke="#0c0c0c" stroke-width="0.30" >跨境<tspan font-size="23.37" letter-spacing="1.17" stroke="#0c0c0c" stroke-width="0.70">ETF</tspan></text>
<text x="627.0" y="2111.0" font-size="20.50" fill="#0c0c0c" font-weight="500" text-anchor="middle" stroke="#0c0c0c" stroke-width="0.30" >黄金<tspan font-size="23.37" letter-spacing="1.17" stroke="#0c0c0c" stroke-width="0.70">ETF</tspan></text>
<text x="847.6" y="2111.0" font-size="20.50" fill="#0c0c0c" font-weight="500" text-anchor="middle" stroke="#0c0c0c" stroke-width="0.30" >股票<tspan font-size="23.37" letter-spacing="1.17" stroke="#0c0c0c" stroke-width="0.70">ETF</tspan></text>
<rect x="0.0" y="2125.0" width="1000.0" height="33.5" fill="#364386"/>
<text x="30.0" y="2149.0" font-size="20.80" fill="#fff" font-weight="500" text-anchor="start" stroke="#fff" stroke-width="0.30" >流入占比</text>
<text transform="translate(154.25 2150.40) scale(0.779 1)" font-size="29.00" fill="#fff" font-weight="700" stroke="#fff" stroke-width="0.40" textLength="81.5" lengthAdjust="spacing">47.6%</text>
<text transform="translate(374.25 2150.40) scale(0.779 1)" font-size="29.00" fill="#fff" font-weight="700" stroke="#fff" stroke-width="0.40" textLength="81.5" lengthAdjust="spacing">34.4%</text>
<text transform="translate(601.50 2150.40) scale(0.765 1)" font-size="29.00" fill="#fff" font-weight="700" stroke="#fff" stroke-width="0.40" textLength="65.3" lengthAdjust="spacing">9.7%</text>
<text transform="translate(822.60 2150.40) scale(0.765 1)" font-size="29.00" fill="#fff" font-weight="700" stroke="#fff" stroke-width="0.40" textLength="65.3" lengthAdjust="spacing">8.1%</text>
<rect x="0.0" y="2171.0" width="1000.0" height="44.0" fill="#e6e6e8"/>
<text x="188.5" y="2199.0" font-size="16.40" fill="#333" font-weight="400" text-anchor="start" stroke="#333" stroke-width="0.00" >记者<tspan font-size="16.40" letter-spacing="0.00" stroke="#333" stroke-width="0.00">:</tspan>杨娜娜  编辑<tspan font-size="16.40" letter-spacing="0.00" stroke="#333" stroke-width="0.00">:</tspan>姜诗蔷  数据来源<tspan font-size="16.40" letter-spacing="0.00" stroke="#333" stroke-width="0.00">:</tspan>上交所，数据截至<tspan font-size="16.40" letter-spacing="0.00" stroke="#333" stroke-width="0.00">2025</tspan>年末，<tspan font-size="16.40" letter-spacing="0.00" stroke="#333" stroke-width="0.00">21</tspan>世纪经济报道梳理</text>
</svg>
</body></html>
